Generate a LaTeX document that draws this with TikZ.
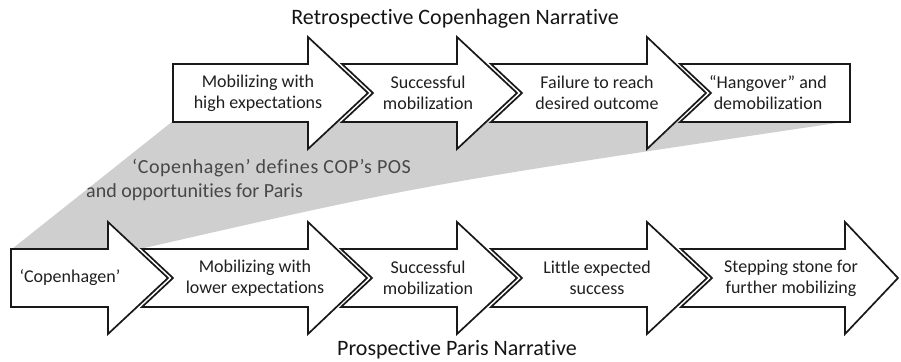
\documentclass[tikz,border=0pt]{standalone}
\usepackage{fontspec}
\setmainfont{Carlito}[Ligatures=NoCommon]
\newfontfamily\wideCarlito{Carlito}[Ligatures=NoCommon,LetterSpace=2.9]
\begin{document}
\begin{tikzpicture}[x=1pt,y=-1pt,
  arrowbox/.style={draw=black!90,fill=white,line width=1.7pt,line join=miter},
  lbl/.style={align=center,text=black!88,font=\fontsize{18}{21}\selectfont,inner sep=0pt},
  graytxt/.style={anchor=west,text=black!72,font=\fontsize{20}{24}\selectfont,inner sep=0pt},
  ttl/.style={text=black!92,font=\fontsize{22}{26}\selectfont,inner sep=0pt}]
\useasboundingbox (0,0) rectangle (901,361);
% gray band
\fill[black!19] (12,249) -- (173,121) -- (850,121) .. controls (420,185) .. (140,249) -- cycle;
% --- top row (cy = 93) ---
\draw[arrowbox] (173,64) -- (308,64) -- (308,37) -- (368,93) -- (308,149) -- (308,122) -- (173,122) -- cycle;
\draw[arrowbox] (342,64) -- (457,64) -- (457,37) -- (517,93) -- (457,149) -- (457,122) -- (342,122) -- (373,93) -- cycle;
\draw[arrowbox] (491,64) -- (647,64) -- (647,37) -- (706,93) -- (647,149) -- (647,122) -- (491,122) -- (522,93) -- cycle;
\draw[arrowbox] (680,64) -- (850,64) -- (850,122) -- (680,122) -- (711,93) -- cycle;
% --- bottom row (cy = 278) ---
\draw[arrowbox] (11,249) -- (108,249) -- (108,222) -- (168,278) -- (108,334) -- (108,307) -- (11,307) -- cycle;
\draw[arrowbox] (142,249) -- (308,249) -- (308,222) -- (367,278) -- (308,334) -- (308,307) -- (142,307) -- (173,278) -- cycle;
\draw[arrowbox] (341,249) -- (457,249) -- (457,222) -- (517,278) -- (457,334) -- (457,307) -- (341,307) -- (372,278) -- cycle;
\draw[arrowbox] (491,249) -- (647,249) -- (647,222) -- (707,278) -- (647,334) -- (647,307) -- (491,307) -- (522,278) -- cycle;
\draw[arrowbox] (681,249) -- (845,249) -- (845,222) -- (898,278) -- (845,334) -- (845,307) -- (681,307) -- (712,278) -- cycle;
% labels
\node[ttl] (ttop) at (455,19) {Retrospective Copenhagen Narrative};
\node[ttl] (tbot) at (457,350) {Prospective Paris Narrative};
\node[lbl] (t1) at (258,93) {Mobilizing with\\high expectations};
\node[lbl] (t2) at (428,93) {Successful\\mobilization};
\node[lbl] (t3) at (597,93) {Failure to reach\\desired outcome};
\node[lbl] (t4) at (768,93) {“Hangover” and\\demobilization};
\node[lbl] (b1) at (70,278) {‘Copenhagen’};
\node[lbl] (b2) at (255,278) {Mobilizing with\\lower expectations};
\node[lbl] (b3) at (428,278) {Successful\\mobilization};
\node[lbl] (b4) at (597,278) {Little expected\\success};
\node[lbl] (b5) at (791,278) {Stepping stone for\\further mobilizing};
\node[graytxt,font=\wideCarlito\fontsize{20}{24}\selectfont] (g1) at (132,168) {‘Copenhagen’ defines COP’s POS};
\node[graytxt] (g2) at (86,192) {and opportunities for Paris};
\end{tikzpicture}
\end{document}
